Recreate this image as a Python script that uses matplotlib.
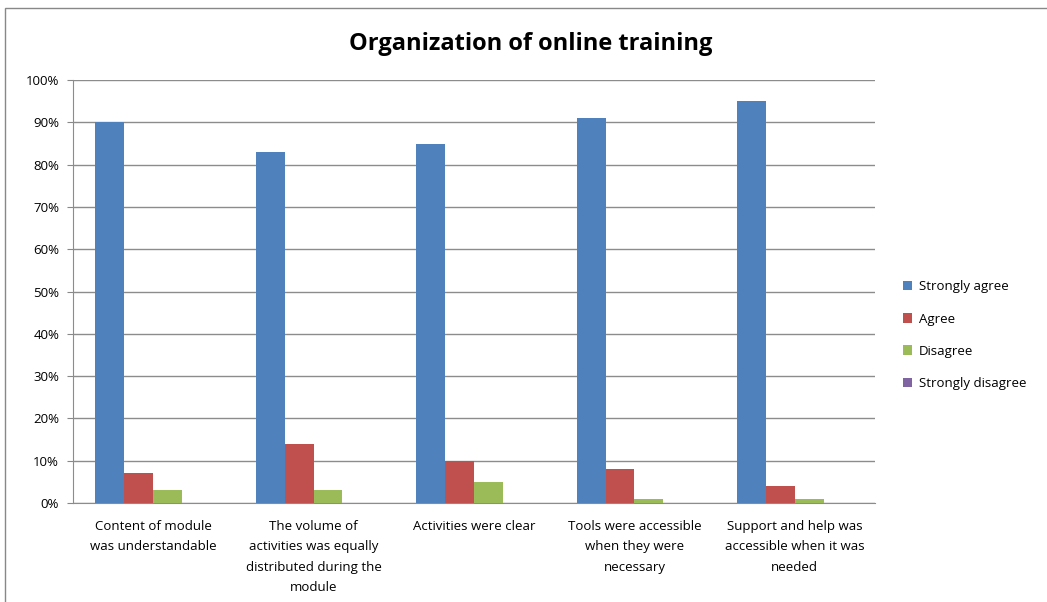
import matplotlib.pyplot as plt
from matplotlib.patches import Rectangle
import numpy as np

categories = [
    "Content of module\nwas understandable",
    "The volume of\nactivities was equally\ndistributed during the\nmodule",
    "Activities were clear",
    "Tools were accessible\nwhen they were\nnecessary",
    "Support and help was\naccessible when it was\nneeded",
]
strongly_agree = [90, 83, 85, 91, 95]
agree = [7, 14, 10, 8, 4]
disagree = [3, 3, 5, 1, 1]
strongly_disagree = [0, 0, 0, 0, 0]

series_names = ["Strongly agree", "Agree", "Disagree", "Strongly disagree"]
colors = ["#4f81bd", "#c0504d", "#9bbb59", "#8064a2"]

plt.rcParams['font.family'] = ['Open Sans', 'DejaVu Sans']

fig = plt.figure(figsize=(10.47, 6.02), dpi=100)
ax = fig.add_axes([0.0697, 0.1645, 0.766, 0.7025])

# cadre du graphique
fig.patches.append(Rectangle((0.005, -0.01), 1.2, 0.997, transform=fig.transFigure,
                             fill=False, edgecolor="#888888", linewidth=1))

x = np.arange(len(categories))
w = 0.18
all_series = [strongly_agree, agree, disagree, strongly_disagree]
for i, (vals, name, c) in enumerate(zip(all_series, series_names, colors)):
    ax.bar(x + (i - 1.5) * w, vals, width=w, color=c, label=name, zorder=3)

ax.set_xlim(-0.5, len(categories) - 0.5)
ax.set_ylim(0, 100)
ax.set_yticks(range(0, 101, 10))
ax.set_yticklabels([f"{v}%" for v in range(0, 101, 10)], fontsize=9.5)
ax.set_xticks(x)
ax.set_xticklabels(categories, fontsize=9.5, linespacing=1.75)
ax.tick_params(axis='x', length=0, pad=12)
ax.tick_params(axis='y', length=4, color="#888888", pad=6)
ax.yaxis.grid(True, color="#8c8c8c", linewidth=1, zorder=0)
for s in ["top", "right"]:
    ax.spines[s].set_visible(False)
for s in ["left", "bottom"]:
    ax.spines[s].set_color("#8c8c8c")

fig.text(0.507, 0.927, "Organization of online training", ha='center', va='center',
         fontsize=17, fontweight='bold')

leg = ax.legend(loc='center left', bbox_to_anchor=(1.02, 0.397), frameon=False,
                fontsize=9.5, handlelength=0.7, handleheight=0.7, labelspacing=1.45,
                handletextpad=0.5)

fig.savefig("out.png", dpi=100)
